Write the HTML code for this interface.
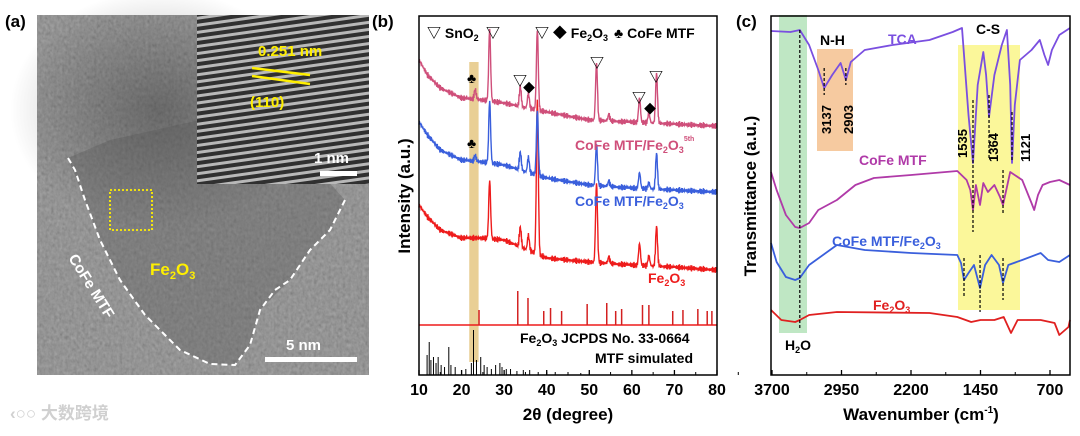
<!DOCTYPE html>
<html><head><meta charset="utf-8">
<style>
html,body{margin:0;padding:0;background:#fff;}
body{width:1080px;height:431px;overflow:hidden;font-family:"Liberation Sans","Noto Sans CJK SC",sans-serif;}
svg text{font-family:"Liberation Sans","Noto Sans CJK SC",sans-serif;font-weight:bold;}
</style></head>
<body>
<svg id="fig" width="1080" height="431" viewBox="0 0 1080 431" xmlns="http://www.w3.org/2000/svg">
<defs>
 <filter id="noise" x="0" y="0" width="100%" height="100%">
  <feTurbulence type="fractalNoise" baseFrequency="0.35 0.25" numOctaves="2" seed="3" result="t"/>
  <feColorMatrix type="matrix" values="0.33 0.33 0.33 0 0  0.33 0.33 0.33 0 0  0.33 0.33 0.33 0 0  0 0 0 0 1" in="t"/>
  <feComponentTransfer><feFuncR type="linear" slope="0.9" intercept="0.1"/><feFuncG type="linear" slope="0.9" intercept="0.1"/><feFuncB type="linear" slope="0.9" intercept="0.1"/></feComponentTransfer>
 </filter>
 <pattern id="fringe" width="8" height="7" patternUnits="userSpaceOnUse" patternTransform="rotate(-8)">
  <rect width="8" height="7" fill="#303030"/>
  <rect y="2" width="8" height="3" fill="#b8b8b8"/>
 </pattern>
 <radialGradient id="dark" cx="0.5" cy="0.5" r="0.5">
  <stop offset="0" stop-color="#333" stop-opacity="0.45"/>
  <stop offset="1" stop-color="#333" stop-opacity="0"/>
 </radialGradient>
</defs>

<!-- Panel a -->
<text x="5" y="27" font-size="17" fill="#000">(a)</text>
<g>
 <rect x="37" y="15" width="332" height="360" fill="#888" filter="url(#noise)"/>
 <rect x="37" y="15" width="332" height="360" fill="#6e6e6e" opacity="0.55"/>
 <ellipse cx="160" cy="110" rx="150" ry="120" fill="url(#dark)"/>
 <path d="M68,158 L85,200 L100,240 L120,280 L145,315 L180,350 L210,364 L235,365 L250,345 L260,310 L290,280 L310,250 L330,230 L345,200 L300,150 L200,120 L110,140 Z" fill="#555" opacity="0.35"/>
 <path d="M68,158 L75,170 L85,200 L100,240 L120,280 L145,315 L180,350 L210,364 L235,365 L250,345 L260,310 L275,290 L290,280 L310,250 L330,230 L345,200" fill="none" stroke="#fff" stroke-width="2" stroke-dasharray="6,4"/>
 <rect x="110" y="190" width="42" height="40" fill="none" stroke="#ffef00" stroke-width="1.8" stroke-dasharray="2,2"/>
 <text x="150" y="275" font-size="17" fill="#ffef00">Fe<tspan font-size="11" dy="4">2</tspan><tspan dy="-4">O</tspan><tspan font-size="11" dy="4">3</tspan></text>
 <text x="0" y="0" font-size="15" fill="#fff" transform="translate(68,258) rotate(58)">CoFe MTF</text>
 <rect x="265" y="357" width="92" height="5" fill="#fff"/>
 <text x="286" y="350" font-size="15" fill="#fff">5 nm</text>
 <g>
  <rect x="197" y="15" width="172" height="169" fill="url(#fringe)"/>
  <text x="258" y="56" font-size="15" fill="#ffef00">0.251 nm</text>
  <line x1="252" y1="68" x2="310" y2="75" stroke="#ffef00" stroke-width="2.5"/>
  <line x1="252" y1="76" x2="310" y2="84" stroke="#ffef00" stroke-width="2.5"/>
  <text x="250" y="107" font-size="15" fill="#ffef00">(110)</text>
  <text x="314" y="163" font-size="15" fill="#fff">1 nm</text>
  <rect x="320" y="171" width="37" height="5" fill="#fff"/>
 </g>
</g>
<text x="10" y="419" font-size="17" fill="#d0d0d0" font-weight="normal">‹○○ 大数跨境</text>

<!-- Panel b -->
<text x="372" y="27" font-size="17" fill="#000">(b)</text>
<g id="xrd"></g>

<!-- Panel c -->
<text x="736" y="27" font-size="17" fill="#000">(c)</text>
<g id="ftir"></g>
</svg>

<script>
// ---------- XRD data ----------
const xrdTicks = [10,20,30,40,50,60,70,80];
const pinkBaseX = [10,12,15,20,25,30,40,50,60,70,80];
const pinkBaseV = [315,300,287,277,275,272,263,255,253,251,249];
const pinkPeakPos = [23.2,26.6,33.8,35.7,37.8,51.7,54.6,61.8,64.0,65.8];
const pinkPeakH = [10,72,20,15,80,58,6,25,10,50];
const blueBaseX = [10,12,15,20,25,30,40,50,60,70,80];
const blueBaseV = [253,240,225,215,213,210,197,190,187,185,183];
const bluePeakPos = [23.2,26.6,33.8,35.7,37.8,51.7,54.6,61.8,64.0,65.8];
const bluePeakH = [6,62,18,15,65,42,5,16,6,36];
const redBaseX = [10,12,15,20,25,30,40,50,60,70,80];
const redBaseV = [170,158,145,137,137,135,117,113,110,108,105];
const redPeakPos = [26.6,33.8,35.7,37.8,51.7,54.6,61.8,64.0,65.8];
const redPeakH = [58,20,15,155,80,6,22,10,40];
const refPos = [24.1,33.2,35.6,39.3,40.9,43.5,49.5,54.1,56.2,57.6,62.5,64.0,69.6,72.0,75.5,77.7,78.8];
const refH = [15,34,27,14,17,14,21,22,14,16,20,20,14,15,16,14,14];
const simPos = [11.9,12.4,12.8,13.4,14.0,14.5,15.2,16.0,17.0,17.5,18.5,20.0,21.0,22.3,22.8,23.5,24.5,25.3,26.0,27.0,28.0,29.0,29.5,30.5,31.5,33.0,34.5,36.0,38.0,40.0,42.0,45.0,48.0];
const simH = [20,33,15,18,12,18,10,8,28,10,8,5,6,12,45,15,18,10,8,6,10,12,8,6,6,4,5,5,3,3,3,2,2];

// ---------- FTIR data (wavenumber, transmittance a.u.) ----------
const ftirTicks = [3700,2950,2200,1450,700];
const tcaW = [3750,3500,3400,3300,3200,3137,3050,2960,2903,2850,2700,2400,2000,1750,1650,1580,1531,1480,1420,1390,1358,1300,1220,1165,1130,1110,1080,1025,900,810,760,720,680,600,484];
const tcaT = [344,343,345,330,305,287,300,312,295,313,325,330,335,343,347,260,212,290,323,300,258,300,330,345,290,212,270,315,325,335,320,310,325,340,347];
const mtfW = [3750,3650,3550,3450,3400,3300,3200,3000,2800,2600,2200,1700,1600,1560,1531,1500,1455,1420,1370,1300,1240,1207,1130,1000,900,870,830,780,700,600,484];
const mtfT = [203,185,160,148,147,152,165,175,190,197,200,204,195,185,165,190,170,192,183,190,178,170,203,195,172,165,180,190,193,195,190];
const cmfW = [3750,3650,3550,3450,3400,3300,3000,2700,2200,1700,1660,1628,1580,1520,1455,1400,1330,1250,1207,1150,1000,800,720,600,484];
const cmfT = [132,113,98,95,97,110,130,125,122,120,112,95,102,110,87,110,120,110,92,110,115,122,115,113,120];
const feW = [3750,3600,3450,3400,3300,3000,2000,1700,1550,1450,1300,1200,1121,1050,800,650,600,500,484];
const feT = [65,55,53,55,60,63,62,58,53,55,55,58,42,55,55,52,40,48,55];

const NS = "http://www.w3.org/2000/svg";
function mk(parent, tag, attrs){const e=document.createElementNS(NS,tag);for(const k in attrs)e.setAttribute(k,attrs[k]);parent.appendChild(e);return e;}
function interp(xs, vs, x){
  if(x<=xs[0])return vs[0];
  for(let i=1;i<xs.length;i++){if(x<=xs[i]){const t=(x-xs[i-1])/(xs[i]-xs[i-1]);return vs[i-1]+t*(vs[i]-vs[i-1]);}}
  return vs[vs.length-1];
}

// ---------- XRD draw ----------
(function(){
 const g=document.getElementById('xrd');
 const L=419,R=717,T=16,B=375;
 const xs=v=>L+(v-10)*(R-L)/70;
 const ys=v=>B-v;
 const band=mk(g,'rect',{x:xs(21.8),y:62,width:xs(24.0)-xs(21.8),height:300,fill:'#e9cf95'});
 
 
 function series(bx,bv,pp,ph,color,name){
  let d='';
  for(let t=10;t<=79.8;t+=0.1){
   let v=interp(bx,bv,t);
   for(let i=0;i<pp.length;i++){const w=0.22;v+=ph[i]*Math.exp(-((t-pp[i])**2)/(2*w*w));}
   v+=1.8*Math.sin(t*37)+1.4*Math.sin(t*91);
   d+=(d?'L':'M')+xs(t).toFixed(1)+','+ys(v).toFixed(1);
  }
  const p=mk(g,'path',{d:d,fill:'none',stroke:color,'stroke-width':1.4});
  
  
 }
 series(redBaseX,redBaseV,redPeakPos,redPeakH,'#ee1c1c','xrd-fe2o3-line');
 series(blueBaseX,blueBaseV,bluePeakPos,bluePeakH,'#3a5fdc','xrd-cofe-mtf-fe2o3-line');
 series(pinkBaseX,pinkBaseV,pinkPeakPos,pinkPeakH,'#cf4f7a','xrd-cofe-mtf-fe2o3-5th-line');
 const rb=325;
 const rl=mk(g,'line',{x1:L,x2:R,y1:rb,y2:rb,stroke:'#ee1c1c','stroke-width':1.5});
 
 
 for(let i=0;i<refPos.length;i++){
  const s=mk(g,'line',{x1:xs(refPos[i]),x2:xs(refPos[i]),y1:rb,y2:rb-refH[i],stroke:'#d32020','stroke-width':1.5});
  
  
 }
 for(let i=0;i<simPos.length;i++){
  const s=mk(g,'line',{x1:xs(simPos[i]),x2:xs(simPos[i]),y1:B,y2:B-simH[i],stroke:'#000','stroke-width':1});
  
  
 }
 const fr=mk(g,'rect',{x:L,y:T,width:R-L,height:B-T,fill:'none',stroke:'#000','stroke-width':1.5});
 
 
 for(const t of xrdTicks){
  mk(g,'line',{x1:xs(t),x2:xs(t),y1:B,y2:B-5,stroke:'#000','stroke-width':1.3});
  mk(g,'line',{x1:xs(t+5),x2:xs(t+5),y1:B,y2:B-3,stroke:'#000','stroke-width':1});
  const tx=mk(g,'text',{x:xs(t),y:395,'font-size':16,'text-anchor':'middle'});
  tx.textContent=t;
  
  
 }
 const html=`
 <text x="568" y="420" font-size="17" text-anchor="middle">2θ (degree)</text>
 <text transform="translate(410,196) rotate(-90)" font-size="17" text-anchor="middle">Intensity (a.u.)</text>
 <text x="427" y="38" font-size="14">▽ SnO<tspan font-size="9" dy="3">2</tspan></text>
 <text x="535" y="38" font-size="14">▽ ◆ Fe<tspan font-size="9" dy="3">2</tspan><tspan dy="-3">O</tspan><tspan font-size="9" dy="3">3</tspan></text>
 <text x="614" y="38" font-size="14">♣ CoFe MTF</text>
 <text x="486" y="38" font-size="14">▽</text>
 <text x="590" y="68" font-size="14">▽</text>
 <text x="513" y="86" font-size="14">▽</text><text x="523" y="92" font-size="12">◆</text>
 <text x="632" y="103" font-size="14">▽</text><text x="644" y="113" font-size="12">◆</text>
 <text x="649" y="82" font-size="14">▽</text>
 <text x="467" y="83" font-size="14">♣</text><text x="467" y="148" font-size="14">♣</text>
 <text x="575" y="150" font-size="14" fill="#cf4f7a">CoFe MTF/Fe<tspan font-size="9" dy="3">2</tspan><tspan dy="-3">O</tspan><tspan font-size="9" dy="3">3</tspan><tspan font-size="7" dy="-12">5th</tspan></text>
 <text x="575" y="206" font-size="14" fill="#3a5fdc">CoFe MTF/Fe<tspan font-size="9" dy="3">2</tspan><tspan dy="-3">O</tspan><tspan font-size="9" dy="3">3</tspan></text>
 <text x="648" y="283" font-size="14" fill="#ee1c1c">Fe<tspan font-size="9" dy="3">2</tspan><tspan dy="-3">O</tspan><tspan font-size="9" dy="3">3</tspan></text>
 <text x="520" y="343" font-size="14">Fe<tspan font-size="9" dy="3">2</tspan><tspan dy="-3">O</tspan><tspan font-size="9" dy="3">3</tspan><tspan dy="-3"> JCPDS No. 33-0664</tspan></text>
 <text x="595" y="363" font-size="14">MTF simulated</text>`;
 g.insertAdjacentHTML('beforeend',html);
})();

// ---------- FTIR draw ----------
(function(){
 const g=document.getElementById('ftir');
 const L=771,R=1070,T=16,B=375;
 const xs=w=>772+(3700-w)*278/3000;
 const ys=v=>B-v;
 const bands=[[779,15,28,318,'#bfe7c4','h2o-band'],[817,49,36,102,'#f6caa0','nh-band'],[958,45,62,265,'#fbf79a','cs-band']];
 for(const b of bands){
  const r=mk(g,'rect',{x:b[0],y:b[1],width:b[2],height:b[3],fill:b[4]});
  
  
 }
 function line(W,Tv,color,name){
  let d='';
  for(let i=0;i<W.length;i++){const x=Math.max(L,Math.min(R,xs(W[i])));d+=(i?'L':'M')+x.toFixed(1)+','+ys(Tv[i]).toFixed(1);}
  const p=mk(g,'path',{d:d,fill:'none',stroke:color,'stroke-width':1.8,'stroke-linejoin':'round'});
  
  
 }
 line(feW,feT,'#e02020','ftir-fe2o3-line');
 line(cmfW,cmfT,'#3a5fdc','ftir-cofe-mtf-fe2o3-line');
 line(mtfW,mtfT,'#b03aa8','ftir-cofe-mtf-line');
 line(tcaW,tcaT,'#7a4fe0','ftir-tca-line');
 const dash=[[3400,30,330],[3137,68,95],[2903,68,85],[1531,100,232],[1455,255,312],[1358,95,160],[1207,170,213],[1207,258,300],[1110,112,162],[1628,258,298]];
 for(const d of dash){
  const l=mk(g,'line',{x1:xs(d[0]),x2:xs(d[0]),y1:d[1],y2:d[2],stroke:'#000','stroke-width':1.2,'stroke-dasharray':'3,2'});
  
  
 }
 const fr=mk(g,'rect',{x:L,y:T,width:R-L,height:B-T,fill:'none',stroke:'#000','stroke-width':1.5});
 
 
 for(const t of ftirTicks){
  mk(g,'line',{x1:xs(t),x2:xs(t),y1:B,y2:B-5,stroke:'#000','stroke-width':1.3});
  if(t>700)mk(g,'line',{x1:xs(t-375),x2:xs(t-375),y1:B,y2:B-3,stroke:'#000','stroke-width':1});
  const tx=mk(g,'text',{x:xs(t),y:395,'font-size':16,'text-anchor':'middle'});
  tx.textContent=t;
  
  
 }
 const html=`
 <text x="921" y="420" font-size="17" text-anchor="middle">Wavenumber (cm<tspan font-size="10" dy="-7">-1</tspan><tspan dy="7">)</tspan></text>
 <text transform="translate(756,196) rotate(-90)" font-size="17" text-anchor="middle">Transmittance (a.u.)</text>
 <text x="820" y="45" font-size="14">N-H</text>
 <text x="976" y="34" font-size="14">C-S</text>
 <text x="888" y="44" font-size="14" fill="#7a4fe0">TCA</text>
 <text x="859" y="165" font-size="14" fill="#b03aa8">CoFe MTF</text>
 <text x="832" y="246" font-size="14" fill="#3a5fdc">CoFe MTF/Fe<tspan font-size="9" dy="3">2</tspan><tspan dy="-3">O</tspan><tspan font-size="9" dy="3">3</tspan></text>
 <text x="873" y="310" font-size="14" fill="#e02020">Fe<tspan font-size="9" dy="3">2</tspan><tspan dy="-3">O</tspan><tspan font-size="9" dy="3">3</tspan></text>
 <text x="785" y="350" font-size="14" font-weight="normal">H<tspan font-size="9" dy="3">2</tspan><tspan dy="-3">O</tspan></text>
 <text transform="translate(831,134) rotate(-90)" font-size="13">3137</text>
 <text transform="translate(853,134) rotate(-90)" font-size="13">2903</text>
 <text transform="translate(967,158) rotate(-90)" font-size="13">1535</text>
 <text transform="translate(998,162) rotate(-90)" font-size="13">1364</text>
 <text transform="translate(1030,162) rotate(-90)" font-size="13">1121</text>`;
 g.insertAdjacentHTML('beforeend',html);
})();
</script>
</body></html>
